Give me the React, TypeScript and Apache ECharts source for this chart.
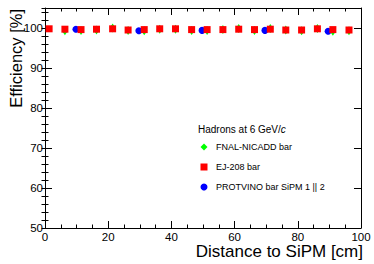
import React, { useEffect, useRef } from "react";
import * as echarts from "echarts";

const FONT = "'Liberation Sans', Arial, Helvetica, sans-serif";

// Distance to SiPM [cm]
const redX = [1.3, 6.3, 11.4, 16.3, 21.4, 26.3, 31.4, 36.3, 41.3, 46.4, 51.3, 56.3, 61.3, 66.3, 71.3, 76.2, 81.2, 86.2, 91.1, 96.2];
const redY = [99.8, 99.7, 99.6, 99.7, 99.8, 99.5, 99.6, 99.8, 99.8, 99.6, 99.6, 99.6, 99.7, 99.6, 99.7, 99.5, 99.5, 99.8, 99.6, 99.5];

const greenX = [6.3, 11.4, 16.3, 21.4, 26.3, 31.4, 36.3, 41.3, 46.4, 51.3, 56.3, 61.3, 66.3, 71.3, 76.2, 81.2, 86.2, 91.1, 96.2];
const greenY = [99.3, 99.4, 99.5, 100.0, 99.4, 99.3, 99.7, 99.7, 99.4, 99.4, 99.6, 99.9, 99.4, 99.9, 99.5, 99.3, 99.9, 99.2, 99.3];

const blueX = [9.8, 29.7, 49.7, 69.6, 89.6];
const blueY = [99.7, 99.3, 99.4, 99.4, 99.2];

const seriesNames = ["FNAL-NICADD bar", "EJ-208 bar", "PROTVINO bar SiPM 1 || 2"];
const xTitle = "Distance to SiPM [cm]";
const yTitle = "Efficiency [%]";

const zip = (xs: number[], ys: number[]) => xs.map((x, i) => [x, ys[i]]);

export default function App() {
  const ref = useRef<HTMLDivElement>(null);
  useEffect(() => {
    document.body.style.margin = "0";
    const chart = echarts.init(ref.current!, null, { renderer: "svg" });
    const black = "#000";
    const baseX = {
      min: 0,
      max: 100,
      interval: 20,
      axisLine: { show: true, lineStyle: { color: black, width: 1 } },
      axisTick: { show: true, inside: true, length: 7, lineStyle: { color: black } },
      minorTick: { show: true, splitNumber: 4, length: 3.5, lineStyle: { color: black } },
      splitLine: { show: false },
      minorSplitLine: { show: false },
    };
    const majorY = {
      min: 50,
      max: 105,
      interval: 10,
      axisLine: { show: true, onZero: false, lineStyle: { color: black, width: 1 } },
      axisTick: { show: true, inside: true, length: 7, lineStyle: { color: black } },
      splitLine: { show: false },
    };
    const minorY = {
      min: 50,
      max: 105,
      interval: 2,
      axisLine: { show: false },
      axisTick: { show: true, inside: true, length: 3.5, lineStyle: { color: black } },
      axisLabel: { show: false },
      splitLine: { show: false },
    };
    chart.setOption({
      animation: false,
      backgroundColor: "#fff",
      textStyle: { fontFamily: FONT },
      grid: { left: 45, top: 8, width: 316, height: 220 },
      xAxis: [
        {
          ...baseX,
          type: "value",
          position: "bottom",
          axisLabel: { color: black, fontSize: 11.5, fontFamily: FONT, margin: 3 },
        },
        {
          ...baseX,
          type: "value",
          position: "top",
          axisLabel: { show: false },
        },
      ],
      yAxis: [
        {
          ...majorY,
          type: "value",
          position: "left",
          axisLabel: {
            color: black,
            fontSize: 11.5,
            fontFamily: FONT,
            margin: 2,
            formatter: (v: number) => (v % 10 === 0 && v <= 100 ? String(v) : ""),
          },
        },
        { ...minorY, type: "value", position: "left" },
        { ...majorY, type: "value", position: "right", axisLabel: { show: false } },
        { ...minorY, type: "value", position: "right" },
      ],
      legend: {
        orient: "vertical",
        left: 200.5,
        top: 142,
        padding: 0,
        itemGap: 10,
        itemWidth: 7,
        itemHeight: 7,
        textStyle: { fontSize: 9, lineHeight: 10, color: black, fontFamily: FONT, padding: [0, 0, 0, 3.5] },
        data: [
          { name: seriesNames[0], icon: "diamond", itemStyle: { color: "#00ff00", opacity: 1 } },
          { name: seriesNames[1], icon: "rect", itemStyle: { color: "#ff0000", opacity: 1 } },
          { name: seriesNames[2], icon: "circle", itemStyle: { color: "#0000ff", opacity: 1 } },
        ],
      },
      graphic: [
        {
          type: "text",
          x: 198,
          y: 129,
          style: {
            text: "{n|Hadrons at 6 GeV/}{i|c}",
            verticalAlign: "middle",
            align: "left",
            rich: {
              n: { fontSize: 10, fontFamily: FONT, fill: black },
              i: { fontSize: 10, fontFamily: FONT, fontStyle: "italic", fill: black },
            },
          },
        },
        {
          type: "text",
          x: 363,
          y: 251,
          style: {
            text: xTitle,
            align: "right",
            verticalAlign: "middle",
            fontSize: 17,
            fontFamily: FONT,
            fill: black,
          },
        },
        {
          type: "text",
          x: 16,
          y: 9,
          rotation: Math.PI / 2,
          style: {
            text: yTitle,
            align: "right",
            verticalAlign: "middle",
            fontSize: 16.5,
            fontFamily: FONT,
            fill: black,
          },
        },
      ],
      series: [
        {
          name: seriesNames[0],
          type: "scatter",
          data: zip(greenX, greenY),
          symbol: "diamond",
          symbolSize: [6, 9],
          itemStyle: { color: "#00ff00", opacity: 1 },
          xAxisIndex: 0,
          yAxisIndex: 0,
        },
        {
          name: seriesNames[2],
          type: "scatter",
          data: zip(blueX, blueY),
          symbol: "circle",
          symbolSize: 7,
          itemStyle: { color: "#0000ff", opacity: 1 },
          xAxisIndex: 0,
          yAxisIndex: 0,
        },
        {
          name: seriesNames[1],
          type: "scatter",
          data: zip(redX, redY),
          symbol: "rect",
          symbolSize: 7,
          itemStyle: { color: "#ff0000", opacity: 1 },
          xAxisIndex: 0,
          yAxisIndex: 0,
        },
      ],
    });
    return () => chart.dispose();
  }, []);
  return (
    <div
      ref={ref}
      style={{ position: "fixed", left: 0, top: 0, width: 374, height: 264, background: "#fff" }}
    />
  );
}
